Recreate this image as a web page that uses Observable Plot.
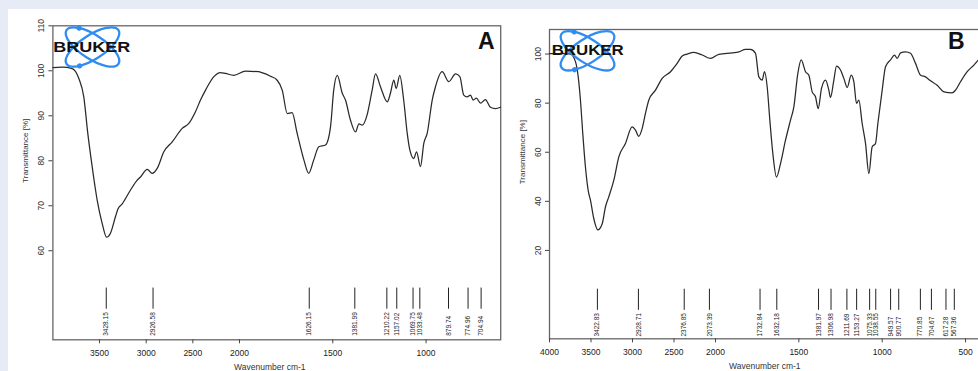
<!DOCTYPE html>
<html><head><meta charset="utf-8">
<script src="https://cdn.jsdelivr.net/npm/d3@7"></script>
<script src="https://cdn.jsdelivr.net/npm/@observablehq/plot@0.6"></script>
<style>
html,body{margin:0;padding:0;width:978px;height:371px;overflow:hidden;background:#e6ebf5;font-family:"Liberation Sans",Arial,sans-serif}
#sheet{position:absolute;left:8px;top:9px;width:970px;height:362px;background:#fff}
.layer{position:absolute;left:0;top:0}
</style></head><body>
<div id="sheet"></div>
<div id="a" class="layer"></div>
<div id="b" class="layer"></div>
<svg id="logos" class="layer" width="978" height="371"></svg>
<script>
// ---- Panel A data (wavenumber cm-1, transmittance %) ----
const wavenumberA = [4000, 3900, 3793, 3722, 3669, 3626, 3579, 3543, 3525, 3472,
  3425, 3383, 3329, 3304, 3257, 3168, 3096, 3061, 2989, 2936,
  2882, 2811, 2721, 2614, 2543, 2472, 2418, 2364, 2275, 2204,
  2150, 2061, 1968, 1897, 1880, 1834, 1798, 1771, 1744, 1718,
  1691, 1655, 1629, 1602, 1575, 1539, 1512, 1495, 1476, 1449,
  1432, 1405, 1378, 1360, 1342, 1316, 1289, 1271, 1244, 1208,
  1191, 1173, 1160, 1141, 1120, 1101, 1087, 1066, 1051, 1030,
  1012, 994, 967, 950, 914, 878, 842, 819, 798, 780,
  762, 748, 730, 708, 682, 655, 628, 601];
const transmittanceA = [100.7, 100.8, 100.5, 98.3, 94.2, 86.1, 78.7, 73.5, 71.2, 66.1,
  63.0, 63.9, 67.6, 69.2, 70.4, 73.5, 75.7, 76.4, 78.1, 77.2,
  78.3, 82.0, 84.2, 87.2, 88.3, 90.9, 93.5, 95.7, 98.7, 99.6,
  99.4, 99.0, 99.9, 99.8, 99.6, 98.8, 97.9, 95.7, 90.5, 90.7,
  86.1, 80.2, 77.2, 80.2, 83.1, 83.5, 87.6, 95.7, 99.0, 95.0,
  93.5, 89.0, 86.4, 88.2, 87.9, 90.2, 95.7, 99.3, 96.4, 93.1,
  95.0, 97.9, 96.1, 99.0, 93.5, 86.1, 82.4, 80.5, 82.0, 78.7,
  83.9, 86.1, 93.5, 96.4, 99.8, 97.6, 99.3, 98.7, 94.6, 94.2,
  94.6, 93.5, 93.9, 92.8, 93.6, 91.9, 91.6, 91.9];
const peaksA = [3428.15, 2926.58, 1626.15, 1381.99, 1210.22, 1157.02, 1069.75, 1033.48, 879.74, 774.96, 704.94];
const xTicksA = [3500, 3000, 2500, 2000, 1500, 1000];
const yTicksA = [60, 70, 80, 90, 100, 110];

// ---- Panel B data ----
const wavenumberB = [4000, 3807, 3747, 3687, 3654, 3627, 3599, 3567, 3534, 3506,
  3466, 3418, 3365, 3326, 3286, 3225, 3165, 3085, 3004, 2964,
  2924, 2883, 2844, 2804, 2723, 2642, 2542, 2462, 2401, 2341,
  2261, 2160, 2060, 1980, 1900, 1860, 1820, 1790, 1760, 1740,
  1720, 1706, 1690, 1674, 1656, 1634, 1610, 1580, 1550, 1530,
  1506, 1486, 1460, 1440, 1420, 1400, 1384, 1364, 1340, 1320,
  1310, 1290, 1274, 1250, 1230, 1210, 1186, 1170, 1154, 1140,
  1120, 1100, 1080, 1060, 1040, 1026, 1000, 980, 950, 926,
  910, 890, 860, 830, 800, 770, 740, 710, 670, 630,
  580, 560, 530, 490, 450, 422];
const transmittanceB = [100.2, 100.2, 100.0, 96.9, 90.7, 81.2, 67.6, 54.0, 44.5, 40.4,
  32.9, 28.4, 30.9, 37.7, 41.8, 48.6, 58.1, 63.6, 70.3, 69.0,
  66.5, 69.7, 75.8, 81.2, 85.3, 90.1, 92.8, 96.2, 99.2, 100.0,
  100.7, 99.6, 98.2, 99.9, 100.5, 100.9, 101.9, 101.9, 100.3, 90.7,
  89.4, 92.8, 86.7, 73.1, 59.5, 49.9, 55.4, 64.9, 73.1, 78.5,
  92.1, 97.6, 92.8, 91.4, 84.6, 82.6, 77.8, 86.0, 89.4, 85.3,
  82.3, 89.4, 95.1, 93.5, 90.1, 86.4, 91.4, 88.7, 79.9, 81.2,
  71.7, 63.6, 51.3, 62.2, 63.6, 71.7, 85.3, 94.8, 97.6, 99.6,
  98.2, 100.5, 100.9, 100.3, 96.2, 91.4, 90.7, 89.1, 87.3, 84.6,
  84.2, 85.3, 88.7, 92.8, 95.5, 97.6];
const peaksB = [3422.83, 2928.71, 2376.85, 2073.39, 1732.84, 1632.18, 1381.97, 1306.98, 1211.69, 1153.27,
  1075.33, 1038.55, 949.57, 900.77, 770.85, 704.67, 617.28, 567.36];
const xTicksB = [4000, 3500, 3000, 2500, 2000, 1500, 1000, 500];
const yTicksB = [20, 40, 60, 80, 100];

const dataA = wavenumberA.map((w, i) => ({w, t: transmittanceA[i]}));
const dataB = wavenumberB.map((w, i) => ({w, t: transmittanceB[i]}));

const FONT = '"Liberation Sans", Arial, sans-serif';
const INK = "#2a2a2a";

function panel(cfg) {
  return Plot.plot({
    width: cfg.width, height: 371,
    marginLeft: cfg.ml, marginRight: cfg.mr, marginTop: cfg.mt, marginBottom: cfg.mb,
    style: {background: "transparent", maxWidth: "none", overflow: "visible", fontFamily: FONT},
    x: {type: "linear", domain: cfg.xDomain, range: cfg.xRange},
    y: {type: "linear", domain: cfg.yDomain, range: cfg.yRange},
    marks: [
      Plot.frame({stroke: "#666", strokeWidth: 1.3}),
      Plot.axisX({ticks: cfg.xTicks, tickSize: 4, tickPadding: 6, tickFormat: d => String(d),
        fontSize: 8.5, label: null, stroke: "#444", fill: "#222"}),
      Plot.axisY({ticks: cfg.yTicks, tickSize: 4, tickRotate: -90, tickPadding: 5,
        tickFormat: d => String(d), fontSize: 8.5, label: null, stroke: "#444", fill: "#333"}),
      Plot.text(["Transmittance [%]"], {text: d => d, frameAnchor: "left", rotate: -90,
        textAnchor: "middle", lineAnchor: "middle",
        dx: -27, dy: -32, fontSize: 8, fill: "#333"}),
      Plot.text(["Wavenumber cm-1"], {text: d => d, frameAnchor: "bottom", textAnchor: "middle", lineAnchor: "middle",
        dx: cfg.xlabDx, dy: 27, fontSize: 8.5, fill: "#333"}),
      Plot.line(cfg.data, {x: "w", y: "t", stroke: INK, strokeWidth: 1.25, curve: "monotone-x"}),
      Plot.ruleX(cfg.peaks, {x: d => d, y1: cfg.ruleY1, y2: cfg.ruleY2, stroke: "#222", strokeWidth: 1}),
      Plot.text(cfg.peaks, {x: d => d, y: cfg.labY, text: d => d.toFixed(2), rotate: -90,
        textAnchor: "start", lineAnchor: "middle", fontSize: 6.5, fill: "#222"}),
      Plot.text([cfg.letter], {text: d => d, frameAnchor: "top-right", textAnchor: "end", lineAnchor: "top",
        dx: cfg.letterDx, dy: cfg.letterDy, fontSize: 23, fontWeight: "bold", fill: "#111"})
    ]
  });
}

document.getElementById("a").append(panel({
  width: 978, ml: 52.4, mr: 477.8, mt: 25.3, mb: 31.7,
  xDomain: [4000, 2000, 600], xRange: [52.4, 239, 500.2],
  yDomain: [40.2, 110], yRange: [339.3, 25.3],
  xTicks: xTicksA, yTicks: yTicksA, data: dataA, peaks: peaksA,
  ruleY1: 51.7, ruleY2: 47.0, labY: 41.1, xlabDx: -7,
  letter: "A", letterDx: -6, letterDy: 6.7
}));

document.getElementById("b").append(panel({
  width: 985, ml: 549, mr: 3.3, mt: 29, mb: 32.7,
  xDomain: [4000, 2000, 400], xRange: [549, 715, 981.7],
  yDomain: [-16, 110], yRange: [338.3, 29],
  xTicks: xTicksB, yTicks: yTicksB, data: dataB, peaks: peaksB,
  ruleY1: 4.2, ruleY2: -4.4, labY: -15.1, xlabDx: -1,
  letter: "B", letterDx: -17.7, letterDy: 3
}));

// ---- Bruker logos (decoration) ----
function logo(cx, cy, textLeft, textWidth, baseline) {
  return `<g transform="translate(${cx},${cy})" fill="none" stroke="#2f8cf2" stroke-width="2.3">
    <g transform="rotate(33)"><ellipse rx="31" ry="12"/><circle cx="-21.5" cy="-8.6" r="2.6" fill="#2f8cf2" stroke="none"/></g>
    <g transform="rotate(-33)"><ellipse rx="31" ry="12"/><circle cx="-21.1" cy="8.8" r="2.6" fill="#2f8cf2" stroke="none"/></g>
  </g>
  <text x="${textLeft}" y="${baseline}" textLength="${textWidth}" lengthAdjust="spacingAndGlyphs"
    font-family='${FONT}' font-weight="900" font-size="14.5" fill="#111">BRUKER</text>`;
}
document.getElementById("logos").innerHTML =
  logo(92.5, 47, 53.3, 77, 52.3) + logo(587.5, 50.8, 551.7, 72, 55);
</script>
</body></html>
